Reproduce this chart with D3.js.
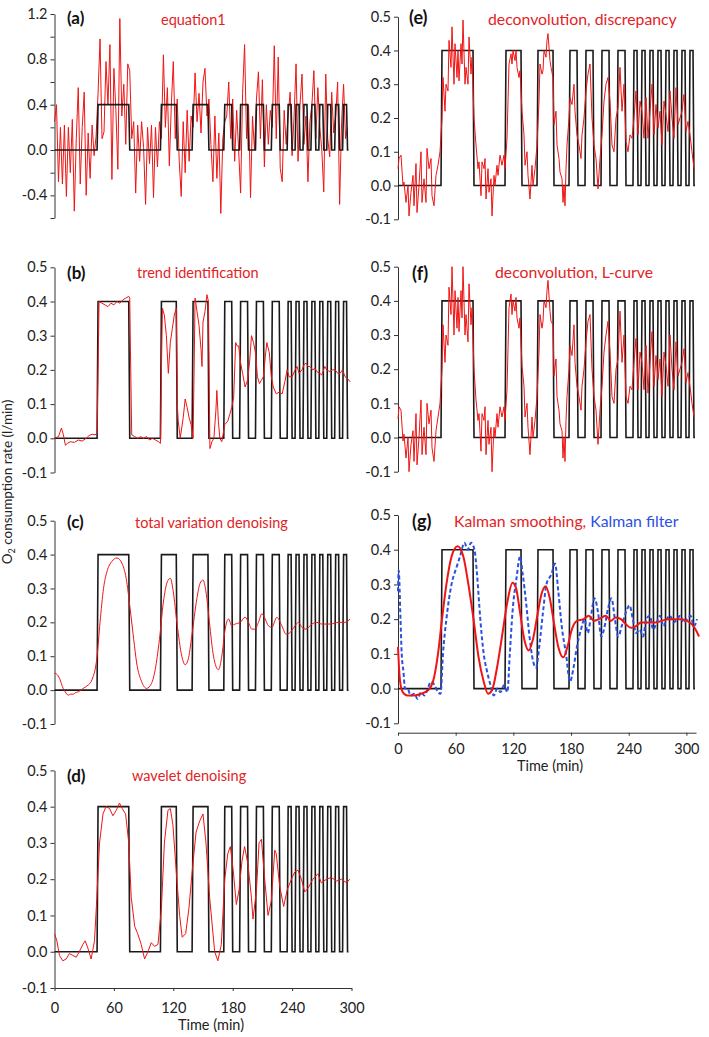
<!DOCTYPE html>
<html>
<head>
<meta charset="utf-8">
<script src="https://cdn.jsdelivr.net/npm/d3@7"></script>
<style>
  body { margin: 0; background: #fff; }
  text { font-family: Lato, "Open Sans", sans-serif; }
</style>
</head>
<body>
<svg id="chart" width="709" height="1037"></svg>
<script>
// ---- data ----
// square-wave workload (l/min) : pulse start times and widths in min
var pulseStart = [44, 108, 140, 172, 188, 204, 220, 236, 244, 252, 260, 268, 276, 284, 292];
var pulseWidth = [32, 16, 16, 8, 8, 8, 8, 4, 4, 4, 4, 4, 4, 4, 4];
var pulseLevel = 0.4;
var stepEnd = 297;

// (a) equation1, one value every 2 min from t = 0
var eq1Values = [0.25,0.4,-0.28,0.2,-0.3,0.22,-0.41,0.2,-0.2,0.27,-0.54,0.1,0.55,-0.3,0.2,0.51,-0.4,0.15,-0.25,0.22,
  -0.05,0.12,0.5,0.98,0.1,0.16,0.78,0.4,0.93,-0.26,0.72,0.35,-0.17,1.16,0.3,0.58,0.05,0.76,0.7,0.1,
  0.25,-0.38,0.22,-0.1,0.25,0.02,-0.48,0.2,-0.12,0.22,-0.42,0.2,-0.15,0.25,0.1,0.84,0.2,0.55,-0.14,0.4,
  0.78,0.1,0.45,-0.1,-0.41,0.25,-0.2,0.35,-0.1,0.3,0.2,0.68,0.25,0.5,0.15,0.6,0.72,0.3,0.45,0.05,
  -0.28,0.3,-0.25,0.15,-0.56,0.1,0.25,0.3,0.6,0.1,0.45,-0.1,0.35,0.0,-0.38,0.5,0.93,0.1,0.4,-0.42,
  0.3,0.0,0.45,0.69,0.1,0.62,-0.15,0.4,0.05,0.35,0.2,0.92,0.1,0.82,-0.16,-0.28,0.35,0.05,0.3,0.51,
  -0.05,0.3,0.76,-0.1,0.4,0.67,0.05,0.3,-0.28,0.25,0.4,0.7,0.1,0.55,0.2,0.0,-0.37,0.67,0.1,-0.06,
  0.51,0.15,0.3,0.6,-0.48,0.25,0.58,0.1,0.2];
var eq1Step = 2;

// (b) trend identification [t, value]
var trendSeries = [[0,0],[4,0.005],[7,0.03],[9,0.01],[11,-0.02],[13,-0.015],[16,-0.01],[20,-0.012],[24,-0.005],[28,-0.008],
  [32,0.0],[35,0.008],[38,0.012],[41,0.01],[43,0.015],[44,0.2],[45,0.4],[48,0.395],[51,0.39],[54,0.385],[57,0.395],
  [60,0.39],[63,0.4],[66,0.395],[69,0.405],[72,0.41],[75,0.415],[76,0.41],[77,0.2],[78,0.01],[81,0.005],[84,0.0],
  [87,0.005],[90,0.0],[93,0.005],[96,-0.005],[99,0.0],[102,-0.005],[105,-0.01],[107,-0.015],[108,0.2],[109,0.38],
  [111,0.36],[113,0.3],[115,0.19],[117,0.28],[119,0.32],[121,0.36],[123,0.38],[124,0.1],[125,0.05],[127,0.0],
  [130,0.06],[132,0.115],[134,0.09],[136,0.06],[138,0.04],[140,0.0],[141,0.2],[142,0.41],[144,0.37],[146,0.33],
  [148,0.26],[149,0.21],[150,0.34],[152,0.37],[154,0.42],[155.5,0.4],[156.5,0.1],[157,-0.03],[159,-0.01],[161,0.0],
  [163,0.08],[164,0.14],[165.5,0.05],[167,0.0],[169,-0.01],[172,0.04],[175,0.05],[177,0.07],[179,0.09],[181,0.12],
  [183,0.28],[184.5,0.27],[186,0.27],[188,0.22],[190,0.19],[192.5,0.15],[195,0.17],[197,0.22],[199,0.3],[201,0.28],
  [203,0.25],[205,0.18],[207,0.16],[209,0.17],[211,0.18],[213,0.24],[214.5,0.28],[217,0.25],[219,0.18],[221,0.15],
  [224,0.13],[227,0.135],[230,0.13],[233,0.17],[235,0.2],[237,0.18],[240,0.18],[243,0.2],[245,0.21],[247,0.19],
  [250,0.2],[252,0.215],[254,0.22],[256,0.21],[258,0.21],[261,0.2],[263,0.205],[265,0.195],[268,0.19],[270,0.185],
  [273,0.21],[275,0.2],[278,0.195],[281,0.2],[283.5,0.2],[286,0.19],[288.5,0.19],[291,0.2],[293.5,0.18],[296,0.175],[298.6,0.165]];

// (c) total variation denoising [t, value]
var tvSeries = [[0,0.05],[3,0.045],[5.7,0.03],[8,0.01],[10.8,-0.005],[14,-0.015],[16,-0.012],[19,-0.012],[21,-0.008],
  [24,-0.005],[29,0.005],[34,0.015],[37,0.025],[39,0.04],[41,0.06],[43,0.1],[46,0.2],[49.5,0.3],[53,0.35],[58,0.38],
  [63,0.39],[68,0.375],[72.4,0.33],[76.4,0.24],[80,0.15],[83,0.08],[88,0.025],[93,0.005],[98,0.02],[101.7,0.06],
  [106,0.15],[110,0.26],[114,0.32],[117,0.33],[120,0.29],[123.6,0.2],[128.6,0.1],[132,0.075],[135,0.09],[138.7,0.16],
  [143.8,0.27],[147,0.315],[150,0.325],[153,0.29],[156.5,0.2],[160.6,0.1],[165.6,0.06],[169,0.1],[172.4,0.18],
  [175.8,0.21],[179,0.19],[182.5,0.195],[187.5,0.2],[192.6,0.215],[196,0.2],[199.3,0.18],[202.7,0.18],[206,0.2],
  [209.4,0.225],[212.8,0.21],[216,0.19],[219.5,0.185],[224.6,0.215],[229.6,0.19],[234,0.165],[238,0.17],[243,0.19],
  [246.5,0.2],[250,0.185],[254,0.18],[260,0.195],[265,0.2],[270,0.195],[278.5,0.195],[287,0.2],[293.6,0.2],[298.6,0.21]];

// (d) wavelet denoising [t, value]
var waveletSeries = [[0,0.05],[2.4,0.03],[5,-0.01],[8.4,-0.025],[11.8,-0.02],[15,-0.005],[18.5,-0.01],[22,-0.015],
  [25,0.0],[28.6,0.02],[31,0.03],[33.7,0.01],[37,-0.02],[40.4,0.03],[42.8,0.15],[45.5,0.3],[49,0.38],[52,0.4],
  [55.6,0.395],[59,0.375],[62.4,0.39],[65.7,0.41],[68.4,0.395],[71.8,0.38],[75,0.3],[77.5,0.15],[81,0.07],[84,0.05],
  [87.6,0.02],[91,-0.02],[94.4,0.0],[97.7,0.025],[101,0.015],[104.5,0.02],[108,0.12],[111,0.3],[114.6,0.39],
  [117,0.395],[119.6,0.35],[123,0.22],[126.4,0.1],[129,0.04],[132.5,0.05],[135.8,0.12],[139,0.22],[143,0.33],
  [146.6,0.36],[150,0.38],[153,0.3],[156.7,0.15],[161.8,0.0],[165,-0.025],[168.5,0.02],[172,0.2],[175,0.27],
  [177.6,0.29],[180.3,0.23],[183.7,0.13],[186.4,0.17],[189.4,0.25],[192,0.29],[195.5,0.24],[198.9,0.15],[200.5,0.09],
  [204,0.17],[206.6,0.3],[209,0.31],[212.3,0.2],[215.7,0.1],[219,0.14],[222.5,0.28],[224,0.27],[227.5,0.18],
  [231.5,0.125],[235,0.17],[239.3,0.2],[242.7,0.22],[246,0.225],[249.4,0.2],[252.8,0.165],[256,0.175],[261,0.2],
  [266,0.215],[269.6,0.19],[274.7,0.2],[279.7,0.205],[284.8,0.195],[290,0.2],[295,0.19],[298.3,0.2]];

// (e) deconvolution, discrepancy [t, value]
var discSeries = [[0,0.05],[1,0.08],[3,0.09],[5,0.0],[6,0.01],[8,-0.05],[10,0.0],[11,-0.09],[13,-0.02],[15,0.03],
  [16,-0.06],[18,0.065],[19,-0.08],[21,0.0],[23,0.1],[24,-0.05],[26,0.02],[28,-0.05],[29,0.11],[31,0.05],[33,0.08],
  [34,-0.03],[36,-0.06],[38,0.03],[40,0.06],[42,0.1],[44,0.2],[45,0.32],[47,0.22],[48,0.3],[50,0.28],[51,0.43],
  [53,0.35],[54,0.47],[56,0.3],[57,0.42],[59,0.32],[60,0.4],[61,0.31],[63,0.42],[64,0.36],[65,0.49],[67,0.3],
  [68,0.35],[70,0.3],[71,0.44],[73,0.33],[74,0.38],[76,0.2],[78,0.12],[80,0.05],[81,0.07],[83,-0.03],[84,0.07],
  [86,0.05],[87,0.08],[88,-0.04],[90,0.05],[91,-0.02],[93,0.02],[94,-0.09],[96,0.03],[97,0.0],[99,0.06],[100,0.03],
  [102,0.09],[104,0.06],[106,0.09],[107,0.05],[109,0.14],[110,0.25],[111,0.36],[113,0.39],[114,0.36],[115,0.4],
  [117,0.37],[118,0.4],[119,0.35],[121,0.32],[122,0.34],[124,0.22],[126,0.15],[127,0.06],[129,0.1],[130,0.03],
  [132,-0.04],[134,0.06],[135,0.0],[137,0.05],[139,0.12],[141,0.25],[142,0.36],[144,0.33],[145,0.34],[146,0.4],
  [148,0.38],[149,0.43],[150,0.45],[152,0.37],[153,0.35],[155,0.32],[156,0.18],[158,0.22],[159,0.12],[161,0.08],
  [162,0.04],[164,0.02],[165,-0.05],[166,0.0],[167,-0.06],[168,0.05],[169,0.12],[171,0.2],[172,0.26],[174,0.24],
  [176,0.3],[177,0.22],[179,0.15],[181,0.12],[183,0.08],[184,0.15],[186,0.2],[188,0.28],[190,0.33],[192,0.36],
  [194,0.2],[196,0.12],[198,0.08],[200,-0.01],[202,0.08],[204,0.15],[206,0.25],[208,0.3],[210,0.32],[212,0.25],
  [214,0.12],[216,0.1],[218,0.2],[220,0.23],[222,0.35],[224,0.22],[226,0.3],[228,0.13],[230,0.1],[232,0.15],
  [234,0.14],[236,0.2],[238,0.28],[240,0.15],[242,0.25],[244,0.22],[246,0.14],[248,0.26],[250,0.14],[252,0.22],
  [254,0.3],[256,0.15],[258,0.24],[260,0.17],[262,0.22],[264,0.12],[266,0.25],[268,0.21],[270,0.16],[272,0.28],
  [274,0.2],[276,0.14],[278,0.29],[280,0.18],[282,0.2],[284,0.22],[286,0.27],[288,0.16],[290,0.19],[292,0.15],
  [294,0.1],[296,0.05]];

// (f) deconvolution, L-curve [t, value]
var lcurveSeries = [[0,0.055],[1,0.09],[3,0.08],[5,-0.01],[6,0.01],[8,-0.06],[10,0.0],[11,-0.1],[13,-0.02],[15,0.02],
  [16,-0.07],[18,0.07],[19,-0.08],[21,0.0],[23,0.11],[24,-0.05],[26,0.03],[28,-0.05],[29,0.1],[31,0.04],[33,0.08],
  [34,-0.03],[36,-0.07],[38,0.02],[40,0.06],[42,0.1],[44,0.2],[45,0.33],[47,0.22],[48,0.3],[50,0.27],[51,0.44],
  [53,0.36],[54,0.5],[56,0.3],[57,0.43],[59,0.32],[60,0.41],[61,0.31],[63,0.43],[64,0.35],[65,0.5],[67,0.3],
  [68,0.36],[70,0.28],[71,0.45],[73,0.33],[74,0.38],[76,0.2],[78,0.11],[80,0.05],[81,0.07],[83,-0.04],[84,0.07],
  [86,0.05],[87,0.09],[88,-0.05],[90,0.05],[91,-0.02],[93,0.03],[94,-0.1],[96,0.03],[97,0.0],[99,0.07],[100,0.03],
  [102,0.09],[104,0.06],[106,0.09],[107,0.05],[109,0.14],[110,0.26],[111,0.38],[113,0.42],[114,0.36],[115,0.4],
  [117,0.37],[118,0.41],[119,0.35],[121,0.32],[122,0.35],[124,0.21],[126,0.15],[127,0.06],[129,0.1],[130,0.03],
  [132,-0.05],[134,0.06],[135,0.0],[137,0.05],[139,0.12],[141,0.25],[142,0.36],[144,0.32],[145,0.34],[146,0.4],
  [148,0.38],[149,0.43],[150,0.46],[152,0.37],[153,0.34],[155,0.33],[156,0.18],[158,0.23],[159,0.12],[161,0.08],
  [162,0.04],[164,0.02],[165,-0.06],[166,0.0],[167,-0.07],[168,0.05],[169,0.12],[171,0.2],[172,0.27],[174,0.24],
  [176,0.33],[177,0.22],[179,0.15],[181,0.12],[183,0.08],[184,0.15],[186,0.2],[188,0.28],[190,0.34],[192,0.36],
  [194,0.2],[196,0.12],[198,0.08],[200,-0.02],[202,0.08],[204,0.15],[206,0.25],[208,0.3],[210,0.34],[212,0.25],
  [214,0.12],[216,0.1],[218,0.2],[220,0.23],[222,0.37],[224,0.22],[226,0.3],[228,0.12],[230,0.1],[232,0.15],
  [234,0.14],[236,0.22],[238,0.29],[240,0.14],[242,0.25],[244,0.22],[246,0.14],[248,0.27],[250,0.13],[252,0.22],
  [254,0.31],[256,0.15],[258,0.24],[260,0.17],[262,0.23],[264,0.12],[266,0.25],[268,0.21],[270,0.15],[272,0.3],
  [274,0.2],[276,0.14],[278,0.28],[280,0.18],[282,0.2],[284,0.22],[286,0.26],[288,0.16],[290,0.19],[292,0.15],
  [294,0.1],[296,0.06]];

// (g) Kalman smoothing (red) and Kalman filter (blue) [t, value]
var kalmanSmooth = [[0,0.12],[1,0.06],[3.3,0.0],[6,-0.015],[9.4,-0.02],[16,-0.02],[23,-0.015],[30,-0.005],[35,0.02],
  [40,0.1],[44,0.2],[48.4,0.3],[53.5,0.38],[59.6,0.41],[65.4,0.38],[70.4,0.3],[75.5,0.2],[80.6,0.09],[85.7,0.02],
  [90,-0.015],[94,-0.005],[99,0.06],[104,0.15],[109.4,0.25],[114.5,0.305],[118,0.29],[122,0.22],[126.4,0.14],
  [130.8,0.11],[134.8,0.14],[139.9,0.22],[143.3,0.27],[147.7,0.295],[151.8,0.26],[155.9,0.19],[160.3,0.12],
  [165.4,0.09],[169.4,0.12],[173.8,0.17],[178.9,0.195],[185.7,0.2],[190.8,0.21],[195.9,0.195],[201,0.2],[207.7,0.21],
  [212.8,0.195],[217.9,0.205],[223,0.2],[228,0.185],[233,0.175],[238,0.18],[243,0.19],[250,0.19],[257,0.19],
  [263.7,0.195],[270.4,0.2],[277,0.2],[284,0.2],[289,0.195],[294,0.185],[297.6,0.17],[301,0.15]];
var kalmanFilter = [[0,0.28],[0.7,0.34],[2.5,0.2],[3.7,0.1],[5.4,0.05],[7,0.0],[9.4,0.0],[12.8,-0.02],[16.2,-0.015],
  [19.6,-0.03],[23,-0.01],[26.4,-0.02],[29.8,0.0],[33,0.02],[36.5,0.01],[40,-0.01],[42.6,-0.015],[45,0.1],
  [48.4,0.2],[53.5,0.3],[58.6,0.35],[62,0.38],[66.4,0.42],[69.8,0.4],[73,0.42],[76.5,0.4],[79,0.33],[82.3,0.2],
  [85.7,0.1],[89,0.05],[92.5,0.01],[95.9,-0.02],[99.2,0.0],[102.6,-0.01],[106,0.01],[109.4,-0.01],[111.8,0.1],
  [114.5,0.22],[118.6,0.32],[122,0.38],[124.7,0.33],[128,0.25],[131.5,0.15],[135,0.08],[138,0.06],[141.6,0.13],
  [145,0.22],[148.4,0.3],[153.5,0.33],[157,0.36],[160.3,0.28],[163.7,0.18],[168,0.1],[172,0.02],[175.5,0.06],
  [178.9,0.12],[183,0.17],[186.4,0.2],[189.8,0.16],[192.5,0.2],[196.5,0.26],[200,0.22],[203.3,0.15],[206.7,0.18],
  [210,0.23],[213.5,0.26],[216.9,0.2],[220.3,0.15],[223.7,0.18],[228,0.22],[231.5,0.24],[234.8,0.2],[238.2,0.16],
  [241.6,0.17],[245,0.15],[248.4,0.2],[251.8,0.21],[255.2,0.17],[258.6,0.19],[262,0.21],[265.4,0.18],[268.7,0.2],
  [272,0.21],[275.5,0.19],[279,0.2],[282.3,0.21],[285.7,0.19],[289,0.2],[292.5,0.21],[296,0.18],[299,0.2]];

// axis ticks
var ticksA = [-0.6, -0.4, -0.2, 0, 0.2, 0.4, 0.6, 0.8, 1.0, 1.2];
var ticksB = [-0.1, 0, 0.1, 0.2, 0.3, 0.4, 0.5];
var timeTicks = [0, 60, 120, 180, 240, 300];

// ---- build the square wave, one point per minute ----
var squareWave = [];
for (var t = 0; t <= stepEnd; t++) {
  var on = pulseStart.some(function(s, i) { return t >= s && t < s + pulseWidth[i]; });
  squareWave.push([t, on ? pulseLevel : 0]);
}
var eq1Series = eq1Values.map(function(v, i) { return [i * eq1Step, v]; });

var RED = "#f01414", TITLE_RED = "#e3231f", BLUE = "#2b50e0", BLACK = "#1a1a1a";

var svg = d3.select("#chart");

var xLeft = d3.scaleLinear().domain([0, 300]).range([54.5, 351.5]);
var xRight = d3.scaleLinear().domain([0, 300]).range([398, 698]);
var xAxisRight = d3.scaleLinear().domain([0, 310]).range([398, 696]);

var panels = [
  {label: "(a)", title: [["equation1", TITLE_RED]], x: xLeft, ax: 54.5, y: [218, 14], dom: [-0.6, 1.2], ticks: ticksA,
   lab: [67, 24], tit: [161, 25], fs: 14.5, ls: 17, series: [{d: eq1Series, c: RED, w: 1}], blackTop: true},
  {label: "(b)", title: [["trend identification", TITLE_RED]], x: xLeft, ax: 54.5, y: [472.5, 267.3], dom: [-0.1, 0.5], ticks: ticksB,
   lab: [67, 279], tit: [137, 278], fs: 14.5, ls: 17, series: [{d: trendSeries, c: RED, w: 1}]},
  {label: "(c)", title: [["total variation denoising", TITLE_RED]], x: xLeft, ax: 54.5, y: [724, 520.7], dom: [-0.1, 0.5], ticks: ticksB,
   lab: [67, 527.5], tit: [135, 528], fs: 14.5, ls: 17, series: [{d: tvSeries, c: RED, w: 1, smooth: true}]},
  {label: "(d)", title: [["wavelet denoising", TITLE_RED]], x: xLeft, ax: 54.5, y: [988, 770.4], dom: [-0.1, 0.5], ticks: ticksB,
   lab: [67, 782], tit: [132, 781], fs: 14.5, ls: 17, series: [{d: waveletSeries, c: RED, w: 1}],
   xAxis: {scale: xLeft, y: 988, pad: 12, labelY: 1030, labelX: 211}},
  {label: "(e)", title: [["deconvolution, discrepancy", TITLE_RED]], x: xRight, ax: 398, y: [219.3, 16.7], dom: [-0.1, 0.5], ticks: ticksB,
   lab: [409, 24], tit: [488, 25], fs: 15.8, ls: 18, series: [{d: discSeries, c: RED, w: 1}]},
  {label: "(f)", title: [["deconvolution, L-curve", TITLE_RED]], x: xRight, ax: 398, y: [471.7, 266.7], dom: [-0.1, 0.5], ticks: ticksB,
   lab: [412, 280], tit: [495, 278], fs: 15.8, ls: 18, series: [{d: lcurveSeries, c: RED, w: 1}]},
  {label: "(g)", title: [["Kalman smoothing, ", TITLE_RED], ["Kalman filter", BLUE]], x: xRight, ax: 398, y: [723.3, 515], dom: [-0.1, 0.5], ticks: ticksB,
   lab: [412, 527.5], tit: [454, 527], fs: 15.8, ls: 18,
   series: [{d: kalmanFilter, c: BLUE, w: 2, dash: "4,2.5", smooth: true}, {d: kalmanSmooth, c: RED, w: 2, smooth: true}],
   xAxis: {scale: xAxisRight, y: 732.7, pad: 8, labelY: 771, labelX: 550}}
];

panels.forEach(function(p) {
  var y = d3.scaleLinear().domain(p.dom).range(p.y);
  var g = svg.append("g");

  // y axis
  var yAxis = d3.axisLeft(y).tickValues(p.ticks).tickSize(4).tickSizeOuter(0).tickPadding(3)
    .tickFormat(function(d) {
      if (p.ticks === ticksA && Math.round(d * 10) % 4 !== 0) return "";
      return d.toFixed(1);
    });
  var ya = g.append("g").attr("transform", "translate(" + p.ax + ",0)").call(yAxis);
  ya.select(".domain").attr("stroke", "#333");
  ya.selectAll(".tick line").attr("stroke", "#333");
  ya.selectAll("text").attr("font-size", 14.5).attr("fill", "#222");

  // x axis (bottom panels only)
  if (p.xAxis) {
    var xa = g.append("g").attr("transform", "translate(0," + p.xAxis.y + ")")
      .call(d3.axisBottom(p.xAxis.scale).tickValues(timeTicks).tickSize(3).tickSizeOuter(0).tickPadding(p.xAxis.pad));
    xa.select(".domain").attr("stroke", "#333");
    xa.selectAll(".tick line").attr("stroke", "#333");
    xa.selectAll("text").attr("font-size", 14.5).attr("fill", "#222");
    g.append("text").attr("x", p.xAxis.labelX).attr("y", p.xAxis.labelY)
      .attr("text-anchor", "middle").attr("font-size", 14.5).attr("fill", "#222").text("Time (min)");
  }

  var line = d3.line().x(function(d) { return p.x(d[0]); }).y(function(d) { return y(d[1]); });
  var smoothLine = d3.line().curve(d3.curveMonotoneX).x(function(d) { return p.x(d[0]); }).y(function(d) { return y(d[1]); });

  function drawBlack() {
    g.append("path").datum(squareWave).attr("d", line)
      .attr("fill", "none").attr("stroke", BLACK).attr("stroke-width", 1.6).attr("stroke-linejoin", "miter");
  }
  if (!p.blackTop) drawBlack();
  p.series.forEach(function(s) {
    g.append("path").datum(s.d).attr("d", s.smooth ? smoothLine : line)
      .attr("fill", "none").attr("stroke", s.c).attr("stroke-width", s.w)
      .attr("stroke-dasharray", s.dash || null).attr("stroke-linejoin", "round");
  });
  if (p.blackTop) drawBlack();

  // panel letter and title
  g.append("text").attr("x", p.lab[0]).attr("y", p.lab[1])
    .attr("font-size", p.ls).attr("font-weight", "bold").attr("fill", "#111").text(p.label);
  var tt = g.append("text").attr("x", p.tit[0]).attr("y", p.tit[1]).attr("font-size", p.fs).attr("xml:space", "preserve");
  p.title.forEach(function(part) {
    tt.append("tspan").attr("fill", part[1]).text(part[0]);
  });
});

// shared y label
var yl = svg.append("text").attr("transform", "translate(12,482) rotate(-90)")
  .attr("text-anchor", "middle").attr("font-size", 13.5).attr("fill", "#222");
yl.append("tspan").text("O");
yl.append("tspan").attr("font-size", 9).attr("dy", 3).text("2");
yl.append("tspan").attr("dy", -3).text(" consumption rate (l/min)");
</script>
</body>
</html>
